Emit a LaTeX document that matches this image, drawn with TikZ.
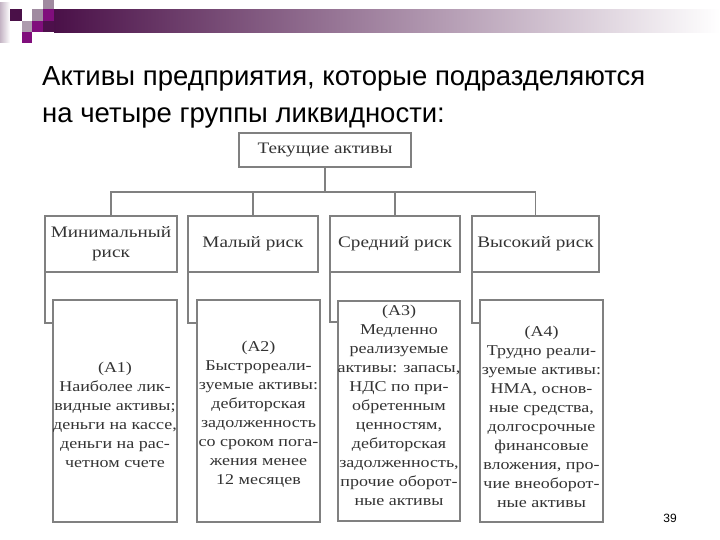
\documentclass[tikz,border=0pt]{standalone}
\usepackage{fontspec}
\setmainfont{Liberation Serif}
\newfontfamily\titlefont{Liberation Sans}
\newfontfamily\diagfont[FakeStretch=1.2]{Liberation Serif}
\definecolor{lineGrey}{HTML}{808080}
\definecolor{txtGrey}{HTML}{333333}
\definecolor{barDark}{HTML}{4A1048}
\definecolor{sqDark}{HTML}{4A1048}
\definecolor{sqPurple}{HTML}{800E7C}
\definecolor{sqGrey}{HTML}{A08AA0}
\definecolor{sqLav}{HTML}{C4B4C4}
\begin{document}
\begin{tikzpicture}[x=1pt,y=-1pt]
\tikzset{
  conn/.style={draw=lineGrey, line width=1.4pt},
  boxbase/.style={rectangle, draw=lineGrey, line width=1.4pt, fill=white, inner sep=0pt, outer sep=0pt, text=txtGrey, align=center},
  topbox/.style={boxbase, minimum width=172pt, minimum height=34pt, font=\diagfont\fontsize{16}{20}\selectfont},
  riskbox/.style={boxbase, minimum height=56pt, font=\diagfont\fontsize{16}{20}\selectfont},
  groupbox/.style={boxbase},
  grouptext/.style={text=txtGrey, align=center, inner sep=0pt, font=\diagfont\fontsize{15}{19}\selectfont},
  titletext/.style={anchor=base west, inner sep=0pt, font=\titlefont\fontsize{27.5}{32}\selectfont, text=black},
}
\useasboundingbox (0,0) rectangle (720,540);
\fill[white] (0,0) rectangle (720,540);
% header decoration
\shade[left color=barDark, right color=white] (54,10) rectangle (720,33);
\shade[left color=sqLav, right color=white] (0,3) rectangle (10,43);
\fill[sqGrey] (43,0) rectangle (54,9);
\fill[sqDark] (10,9) rectangle (22,21);
\fill[sqGrey] (32,9) rectangle (43,21);
\fill[sqPurple] (43,9) rectangle (54,21);
\fill[sqGrey!85] (22,21) rectangle (32,32);
\fill[sqPurple] (32,21) rectangle (43,32);
\fill[barDark!95!sqPurple] (43,21) rectangle (54,32);
\fill[sqPurple] (22,32) rectangle (32,43);
% title
\node[titletext] (t1) at (42,86) {Активы предприятия, которые подразделяются};
\node[titletext] (t2) at (42,123) {на четыре группы ликвидности:};
% top box
\node[topbox] (top) at (325,150) {Текущие активы};
% risk boxes
\node[riskbox, minimum width=132pt] (r1) at (111,244) {Минимальный\\риск};
\node[riskbox, minimum width=130pt] (r2) at (253,244) {Малый риск};
\node[riskbox, minimum width=130pt] (r3) at (395,244) {Средний риск};
\node[riskbox, minimum width=127pt] (r4) at (535.5,244) {Высокий риск};
% group boxes
\node[groupbox, minimum width=124pt, minimum height=222pt] (b1) at (115,411) {};
\node[groupbox, minimum width=123pt, minimum height=222pt] (b2) at (258.5,411) {};
\node[groupbox, minimum width=122pt, minimum height=220pt] (b3) at (399,411) {};
\node[groupbox, minimum width=123pt, minimum height=222pt] (b4) at (541.5,411) {};
\node[grouptext] (g1) at (115,415) {(А1)\\Наиболее лик-\\видные активы;\\деньги на кассе,\\деньги на рас-\\четном счете};
\node[grouptext] (g2) at (258.5,414) {(А2)\\Быстрореали-\\зуемые активы:\\дебиторская\\задолженность\\со сроком пога-\\жения менее\\12 месяцев};
\node[grouptext] (g3) at (399,405) {(А3)\\Медленно\\реализуемые\\активы: запасы,\\НДС по при-\\обретенным\\ценностям,\\дебиторская\\задолженность,\\прочие оборот-\\ные активы};
\node[grouptext] (g4) at (541.5,417) {(А4)\\Трудно реали-\\зуемые активы:\\НМА, основ-\\ные средства,\\долгосрочные\\финансовые\\вложения, про-\\чие внеоборот-\\ные активы};
% connectors
\coordinate (bus) at (325,192);
\draw[conn] (top.south) -- (top.south |- bus);
\draw[conn] (r1.north) -- (r1.north |- bus) -- (r4.north |- bus) -- (r4.north);
\draw[conn] (r2.north) -- (r2.north |- bus);
\draw[conn] (r3.north) -- (r3.north |- bus);
\draw[conn] (r1.south west) |- ([yshift=-23pt]b1.north west);
\draw[conn] (r2.south west) |- ([yshift=-23pt]b2.north west);
\draw[conn] (r3.south west) |- ([yshift=-21pt]b3.north west);
\draw[conn] (r4.south west) |- ([yshift=-23pt]b4.north west);
% page number
\node[anchor=base, inner sep=0pt, font=\titlefont\fontsize{12}{14}\selectfont] (pn) at (670,522) {39};
\end{tikzpicture}
\end{document}
